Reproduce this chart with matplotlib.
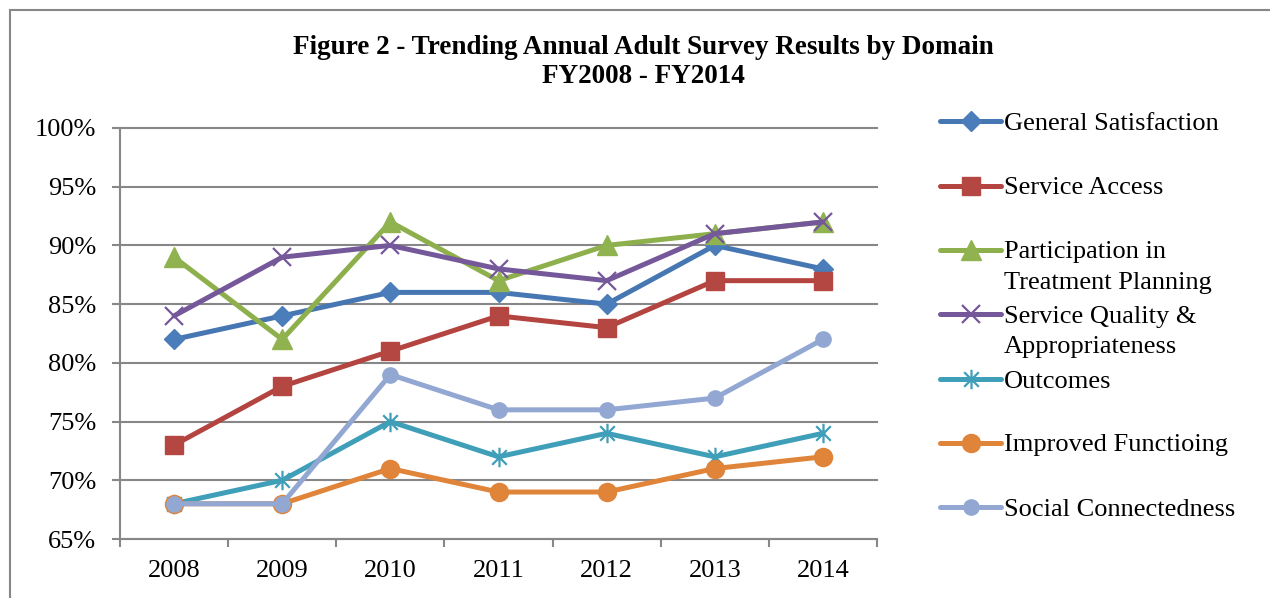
import matplotlib
matplotlib.use("Agg")
import matplotlib.pyplot as plt
import numpy as np
from matplotlib.lines import Line2D
from matplotlib.patches import Rectangle
from matplotlib.path import Path

years = ["2008", "2009", "2010", "2011", "2012", "2013", "2014"]

general_satisfaction = [82, 84, 86, 86, 85, 90, 88]
service_access = [73, 78, 81, 84, 83, 87, 87]
participation = [89, 82, 92, 87, 90, 91, 92]
service_quality = [84, 89, 90, 88, 87, 91, 92]
outcomes = [68, 70, 75, 72, 74, 72, 74]
improved_functioning = [68, 68, 71, 69, 69, 71, 72]
social_connectedness = [68, 68, 79, 76, 76, 77, 82]

y_ticks = [65, 70, 75, 80, 85, 90, 95, 100]

# Excel-style asterisk: vertical stroke plus an X
star = Path(
    [(0, -1), (0, 1), (-0.75, -0.75), (0.75, 0.75), (-0.75, 0.75), (0.75, -0.75)],
    [Path.MOVETO, Path.LINETO, Path.MOVETO, Path.LINETO, Path.MOVETO, Path.LINETO],
)

series = [
    ("General Satisfaction", general_satisfaction,
     dict(color="#4677B2", marker="D", markersize=10, mfc="#4A7DBA", mec="#4A7DBA")),
    ("Service Access", service_access,
     dict(color="#B3443F", marker="s", markersize=13, mfc="#B54743", mec="#B54743")),
    ("Participation in\nTreatment Planning", participation,
     dict(color="#8DB04C", marker="^", markersize=15, mfc="#90B350", mec="#90B350")),
    ("Service Quality &\nAppropriateness", service_quality,
     dict(color="#75589A", marker="x", markersize=13, mew=1.6, mec="#75589A")),
    ("Outcomes", outcomes,
     dict(color="#3F9EB8", marker=star, markersize=14, mew=1.6, mec="#3F9EB8")),
    ("Improved Functioing", improved_functioning,
     dict(color="#DF8438", marker="o", markersize=13, mfc="#DF8438", mec="#DF8438")),
    ("Social Connectedness", social_connectedness,
     dict(color="#92A8D3", marker="o", markersize=11, mfc="#92A8D3", mec="#92A8D3")),
]

plt.rcParams["font.family"] = ["Liberation Serif", "DejaVu Serif"]
grey = "#878787"
text_size = 19

fig = plt.figure(figsize=(12.7, 5.98), dpi=100)
W, H = 1270, 598

def fx(px):
    return px / W

def fy(py):
    return 1 - py / H

# outer chart frame (left and top edges visible)
fig.add_artist(Rectangle((fx(10), -0.2), 1.2, fy(10) + 0.2, transform=fig.transFigure,
                         fill=False, edgecolor=grey, linewidth=1.5))

ax = fig.add_axes([fx(120), fy(539), fx(877) - fx(120), fy(128) - fy(539)])
x = np.arange(len(years))
for label, values, style in series:
    ax.plot(x, values, linewidth=3.6, solid_capstyle="round", zorder=3, **style)

ax.set_xlim(-0.5, len(years) - 0.5)
ax.set_ylim(65, 100)
ax.set_yticks(y_ticks, labels=[f"{v}%" for v in y_ticks])
ax.set_xticks(np.arange(-0.5, len(years)), labels=[])
ax.set_xticks(x, labels=years, minor=True)
ax.tick_params(axis="x", which="major", length=6, width=1.5, color=grey, direction="out")
ax.tick_params(axis="x", which="minor", length=0, pad=15, labelsize=text_size)
ax.tick_params(axis="y", length=6, width=1.5, color=grey, pad=11, labelsize=text_size)
ax.grid(axis="y", color=grey, linewidth=1.5, zorder=1)
for side in ("top", "right"):
    ax.spines[side].set_visible(False)
for side in ("left", "bottom"):
    ax.spines[side].set_color(grey)
    ax.spines[side].set_linewidth(1.5)
ax.set_axisbelow(True)
for gl in ax.get_ygridlines():
    gl.set_clip_on(False)

fig.text(fx(643), fy(62), "Figure 2 - Trending Annual Adult Survey Results by Domain\nFY2008 - FY2014",
         ha="center", va="center", fontsize=19.5, fontweight="bold", linespacing=1.25)

# legend drawn entry by entry so wrapped labels keep the handle on the first line
legend_y = [121, 186, 250, 314, 379, 443, 507]
for (label, values, style), ly in zip(series, legend_y):
    handle = Line2D([fx(940), fx(970.5), fx(1001)], [fy(ly)] * 3, transform=fig.transFigure,
                    linewidth=3.6, solid_capstyle="round", markevery=[1], **style)
    fig.add_artist(handle)
    for i, line in enumerate(label.split("\n")):
        fig.text(fx(1004), fy(ly + 30 * i), line, ha="left", va="center_baseline", fontsize=text_size)

fig.savefig("out.png", dpi=100)
